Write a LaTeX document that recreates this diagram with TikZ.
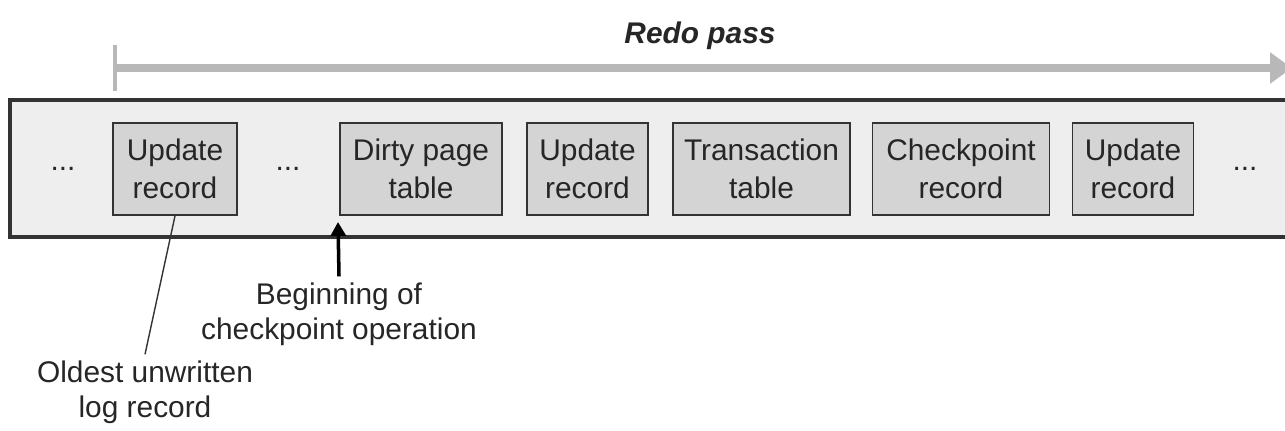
\documentclass[tikz,border=0pt]{standalone}
\usepackage{fontspec}
\setmainfont{Liberation Sans}
\usetikzlibrary{positioning, arrows.meta}
\definecolor{stripfill}{HTML}{EEEEEE}
\definecolor{stripline}{HTML}{333333}
\definecolor{recfill}{HTML}{D4D4D4}
\definecolor{passgray}{HTML}{B8B8B8}
\definecolor{inkgray}{HTML}{262626}

\begin{document}
\begin{tikzpicture}[x=0.02cm, y=-0.02cm, font=\fontsize{17}{20}\selectfont, text=inkgray,
        logrec/.style={rectangle, draw=stripline, line width=1.1pt, fill=recfill,
            minimum height=1.84cm, align=center, font=\fontsize{17}{21.5}\selectfont},
        dotsep/.style={inner sep=1pt}]
        \useasboundingbox (0,0) rectangle (1285,430);
        \fill[stripfill] (10,100) rectangle (1300,237);
        \draw[stripline, line width=2.8pt] (1300,100) -| (10,237) -- (1300,237);
        \node[font=\fontsize{17}{20}\selectfont\bfseries\itshape] (redo) at (700,36) {Redo pass};
        \coordinate (passstart) at (115,68);
        \coordinate (passend) at (1292,68);
        \draw[passgray, line width=4.5pt, -{Triangle[length=0.44cm, width=0.6cm]}] (passstart) -- (passend);
        \draw[passgray, line width=1.8pt] ([yshift=0.47cm]passstart) -- ([yshift=-0.47cm]passstart);
        \node[dotsep] (dotsa) at (63,169) {...};
        \node[logrec, minimum width=2.48cm] (upda) at (175,169) {Update\\record};
        \node[dotsep] (dotsb) at (288,169) {...};
        \node[logrec, minimum width=3.24cm] (dirty) at (421,169) {Dirty page\\table};
        \node[logrec, minimum width=2.42cm] (updb) at (587.5,169) {Update\\record};
        \node[logrec, minimum width=3.54cm] (trans) at (761.5,169) {Transaction\\table};
        \node[logrec, minimum width=3.54cm] (chkpt) at (961,169) {Checkpoint\\record};
        \node[logrec, minimum width=2.42cm] (updc) at (1133,169) {Update\\record};
        \node[dotsep] (dotsc) at (1245,169) {...};
        \node[align=center] (begin) at (339,314) {Beginning of\\checkpoint operation};
        \coordinate (cpstart) at (338,222);
        \draw[black, line width=2pt, -{Triangle[length=0.28cm, width=0.3cm]}] (begin.north) -- (cpstart);
        \node[align=center] (oldest) at (145,392) {Oldest unwritten\\log record};
        \draw[stripline, line width=0.8pt] (upda.south) -- (oldest.north);
    \end{tikzpicture}
\end{document}
